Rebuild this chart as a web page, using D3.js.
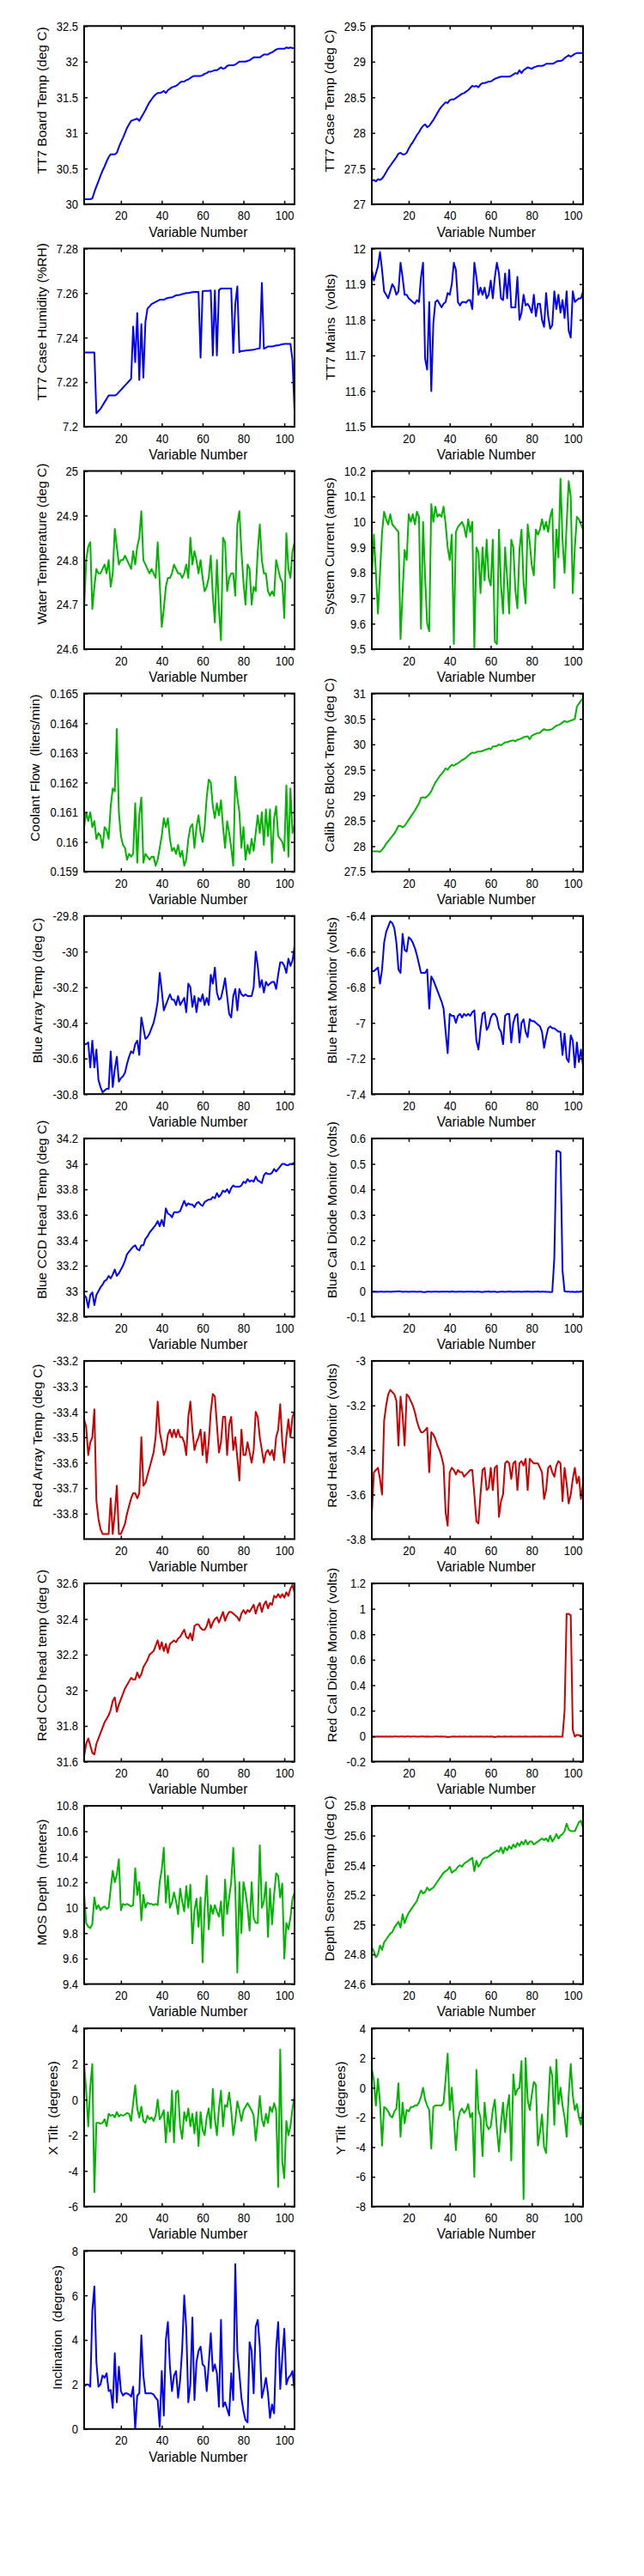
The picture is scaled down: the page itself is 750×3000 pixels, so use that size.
<!DOCTYPE html>
<html><head><meta charset="utf-8">
<script src="https://cdn.jsdelivr.net/npm/d3@7"></script>
<style>
body{margin:0;background:#fff}
svg text{font-family:"Liberation Sans",Arial,Helvetica,sans-serif;fill:#000}
.ylab{white-space:pre}
</style>
</head><body>
<svg id="c" width="750" height="3000"></svg>
<script>
// ---------- data ----------
const variableNumbers = d3.range(2, 106);
const xTicks = [20, 40, 60, 80, 100];

const tt7BoardTemp = [
30.07,30.07,30.07,30.07,30.08,30.17,30.25,30.32,30.4,30.47,
30.53,30.6,30.66,30.7,30.7,30.7,30.72,30.8,30.87,30.93,
31.0,31.07,31.12,31.17,31.18,31.19,31.2,31.17,31.22,31.27,
31.32,31.38,31.43,31.47,31.51,31.54,31.56,31.56,31.57,31.59,
31.56,31.6,31.62,31.64,31.65,31.66,31.68,31.71,31.72,31.72,
31.74,31.75,31.77,31.79,31.8,31.8,31.8,31.8,31.81,31.83,
31.84,31.86,31.86,31.87,31.88,31.88,31.9,31.92,31.9,31.91,
31.94,31.95,31.95,31.95,31.96,31.98,32.0,32.0,32.0,32.0,
32.01,32.02,32.04,32.06,32.06,32.06,32.06,32.08,32.1,32.1,
32.1,32.12,32.13,32.15,32.17,32.18,32.18,32.18,32.18,32.2,
32.19,32.2,32.19,32.19];

const tt7CaseTemp = [
27.33,27.34,27.32,27.35,27.34,27.36,27.4,27.45,27.5,27.54,
27.58,27.62,27.66,27.71,27.72,27.7,27.7,27.72,27.78,27.83,
27.87,27.92,27.97,28.01,28.06,28.1,28.12,28.08,28.1,28.14,
28.18,28.23,28.28,28.33,28.37,28.4,28.43,28.42,28.46,28.47,
28.47,28.49,28.51,28.53,28.55,28.56,28.58,28.6,28.63,28.66,
28.65,28.66,28.64,28.68,28.7,28.7,28.71,28.72,28.72,28.74,
28.76,28.77,28.78,28.79,28.79,28.79,28.79,28.79,28.8,28.82,
28.84,28.83,28.88,28.84,28.88,28.9,28.92,28.91,28.9,28.92,
28.93,28.94,28.94,28.94,28.95,28.97,28.97,28.97,28.97,28.98,
29.0,29.01,29.01,29.02,29.05,29.07,29.09,29.07,29.09,29.11,
29.12,29.12,29.12,29.12];

const tt7CaseHumidity = [
7.2333,7.2333,7.2333,7.2333,7.2333,7.2333,7.206,7.207,7.208,7.2095,
7.211,7.2125,7.214,7.214,7.214,7.214,7.2145,7.2155,7.2165,7.2175,
7.2185,7.2195,7.2205,7.2215,7.245,7.229,7.251,7.221,7.246,7.222,
7.247,7.253,7.254,7.255,7.2555,7.256,7.2565,7.257,7.257,7.257,
7.2575,7.2578,7.258,7.258,7.2585,7.259,7.259,7.2592,7.2595,7.2597,
7.26,7.26,7.2602,7.2604,7.2605,7.2605,7.2605,7.231,7.2608,7.261,
7.261,7.261,7.2612,7.232,7.2612,7.232,7.2613,7.262,7.262,7.262,
7.262,7.262,7.262,7.233,7.255,7.263,7.2335,7.234,7.234,7.2342,
7.2343,7.2344,7.2345,7.2346,7.2348,7.235,7.2352,7.2645,7.235,7.2355,
7.236,7.236,7.236,7.2362,7.2365,7.2365,7.2368,7.237,7.2372,7.2372,
7.2372,7.2372,7.23,7.207];

const tt7Mains = [
11.94,11.91,11.93,11.95,11.99,11.94,11.88,11.87,11.86,11.88,
11.9,11.89,11.87,11.88,11.96,11.92,11.87,11.87,11.86,11.855,
11.85,11.845,11.855,11.85,11.92,11.96,11.69,11.66,11.85,11.6,
11.79,11.85,11.855,11.845,11.835,11.845,11.85,11.875,11.87,11.9,
11.96,11.94,11.85,11.84,11.85,11.85,11.848,11.855,11.855,11.83,
11.96,11.92,11.87,11.89,11.87,11.89,11.86,11.87,11.91,11.86,
11.92,11.96,11.93,11.86,11.855,11.93,11.86,11.94,11.835,11.835,
11.835,11.92,11.8,11.82,11.87,11.84,11.845,11.835,11.82,11.87,
11.81,11.845,11.845,11.8,11.78,11.875,11.81,11.775,11.785,11.88,
11.83,11.87,11.82,11.855,11.805,11.88,11.77,11.75,11.88,11.85,
11.855,11.86,11.86,11.88];

const waterTemperature = [
24.69,24.8,24.83,24.84,24.69,24.74,24.78,24.77,24.77,24.78,
24.79,24.77,24.8,24.74,24.77,24.87,24.83,24.79,24.8,24.8,
24.81,24.8,24.79,24.78,24.82,24.79,24.83,24.85,24.91,24.8,
24.79,24.78,24.77,24.78,24.77,24.76,24.84,24.75,24.65,24.69,
24.74,24.76,24.76,24.77,24.79,24.78,24.77,24.77,24.76,24.77,
24.79,24.76,24.85,24.79,24.82,24.8,24.77,24.8,24.76,24.73,
24.74,24.76,24.81,24.72,24.66,24.8,24.69,24.62,24.85,24.84,
24.73,24.76,24.77,24.77,24.72,24.88,24.91,24.82,24.75,24.7,
24.79,24.78,24.7,24.74,24.73,24.82,24.88,24.8,24.77,24.77,
24.73,24.72,24.73,24.72,24.8,24.78,24.76,24.75,24.67,24.86,
24.78,24.76,24.82,24.84];

const systemCurrent = [
9.78,9.95,9.8,9.64,9.8,9.96,10.04,10.01,9.99,10.03,
9.99,9.98,9.97,9.96,9.54,9.72,9.89,9.85,10.03,10.0,
10.03,9.99,10.04,10.02,9.58,10.0,9.78,9.6,9.57,10.07,
10.0,10.06,10.02,10.03,10.02,10.06,9.99,9.9,9.85,9.95,
9.52,9.96,9.98,9.99,10.0,9.98,9.94,10.01,9.96,10.0,
9.5,9.9,9.88,9.72,9.9,9.77,9.93,9.78,9.75,9.93,
9.53,9.52,9.97,9.75,9.64,9.9,9.78,9.64,9.93,9.9,
9.73,9.66,9.89,9.97,9.76,9.68,9.99,9.92,9.83,9.79,
9.97,9.95,9.97,10.01,9.97,10.0,9.96,10.02,10.05,9.74,
9.97,9.86,10.17,9.93,9.8,9.99,10.16,10.1,9.72,9.9,
10.02,10.01,9.99,9.97];

const coolantFlow = [
0.1605,0.161,0.1607,0.161,0.1605,0.1607,0.1601,0.1603,0.1602,0.1598,
0.1605,0.1604,0.1601,0.1612,0.1618,0.1617,0.1638,0.161,0.1602,0.1599,
0.1598,0.1594,0.1596,0.1595,0.1596,0.1613,0.1593,0.1609,0.1615,0.1593,
0.1596,0.1595,0.1594,0.1595,0.1595,0.1592,0.1594,0.1598,0.1602,0.1608,
0.1605,0.1608,0.1601,0.1597,0.1598,0.1596,0.1599,0.1595,0.1597,0.1592,
0.1594,0.1601,0.1605,0.1606,0.1598,0.1605,0.1609,0.1603,0.16,0.1605,
0.1615,0.1621,0.162,0.1612,0.1608,0.1613,0.1609,0.1614,0.1605,0.1598,
0.1607,0.1603,0.1598,0.1592,0.1622,0.1615,0.161,0.1598,0.1605,0.1594,
0.1599,0.1596,0.1601,0.1597,0.1603,0.1609,0.1603,0.161,0.1599,0.1611,
0.1602,0.1611,0.1593,0.1608,0.1612,0.1602,0.1601,0.16,0.1597,0.1619,
0.1595,0.1618,0.1603,0.1606];

const calibSrcBlockTemp = [
27.9,27.9,27.9,27.9,27.89,27.93,27.98,28.05,28.1,28.15,
28.2,28.25,28.32,28.4,28.4,28.37,28.4,28.46,28.52,28.58,
28.64,28.7,28.77,28.84,28.95,28.96,28.95,28.98,29.02,29.08,
29.17,29.25,29.31,29.37,29.42,29.47,29.53,29.5,29.56,29.6,
29.58,29.61,29.63,29.66,29.69,29.71,29.74,29.78,29.81,29.84,
29.83,29.85,29.86,29.86,29.87,29.89,29.9,29.92,29.9,29.96,
29.96,29.97,30.0,29.98,30.01,30.04,30.04,30.06,30.07,30.08,
30.06,30.09,30.1,30.12,30.14,30.15,30.16,30.1,30.17,30.19,
30.21,30.22,30.23,30.27,30.3,30.28,30.28,30.29,30.3,30.34,
30.37,30.38,30.4,30.43,30.46,30.44,30.45,30.47,30.48,30.5,
30.74,30.8,30.86,30.9];

const blueArrayTemp = [
-30.52,-30.52,-30.51,-30.65,-30.5,-30.65,-30.55,-30.72,-30.76,-30.79,
-30.78,-30.77,-30.77,-30.56,-30.76,-30.66,-30.59,-30.73,-30.71,-30.7,
-30.68,-30.63,-30.59,-30.56,-30.57,-30.52,-30.5,-30.58,-30.37,-30.43,
-30.49,-30.48,-30.46,-30.43,-30.4,-30.35,-30.28,-30.12,-30.22,-30.33,
-30.3,-30.27,-30.24,-30.27,-30.27,-30.3,-30.25,-30.3,-30.28,-30.26,
-30.34,-30.18,-30.2,-30.31,-30.25,-30.34,-30.26,-30.28,-30.24,-30.3,
-30.26,-30.3,-30.13,-30.18,-30.09,-30.23,-30.27,-30.26,-30.21,-30.15,
-30.25,-30.35,-30.37,-30.25,-30.21,-30.33,-30.21,-30.24,-30.25,-30.24,
-30.25,-30.25,-30.25,-30.2,-30.0,-30.08,-30.2,-30.16,-30.23,-30.17,
-30.19,-30.18,-30.17,-30.17,-30.21,-30.13,-30.06,-30.06,-30.08,-30.12,
-30.04,-30.08,-30.05,-29.97];

const blueHeatMonitor = [
-6.71,-6.71,-6.7,-6.69,-6.78,-6.7,-6.55,-6.49,-6.46,-6.43,
-6.44,-6.47,-6.55,-6.7,-6.72,-6.5,-6.59,-6.6,-6.52,-6.53,
-6.55,-6.58,-6.62,-6.67,-6.72,-6.72,-6.72,-6.7,-6.92,-6.74,
-6.76,-6.79,-6.82,-6.85,-6.88,-6.92,-7.05,-7.17,-6.95,-6.96,
-6.96,-7.0,-6.96,-6.95,-6.97,-6.95,-6.96,-6.95,-6.96,-6.94,
-6.93,-7.1,-7.15,-7.04,-6.95,-6.94,-7.04,-7.02,-6.97,-6.95,
-6.95,-6.97,-7.03,-7.05,-7.12,-6.96,-6.95,-6.95,-7.11,-7.0,
-6.96,-6.95,-7.11,-7.0,-6.98,-7.05,-7.08,-6.98,-6.99,-6.99,
-7.0,-7.01,-7.02,-7.05,-7.14,-7.08,-7.03,-7.02,-7.03,-7.03,
-7.04,-7.05,-7.05,-7.18,-7.06,-7.2,-7.22,-7.07,-7.1,-7.25,
-7.11,-7.22,-7.15,-7.24];

const blueCcdHeadTemp = [
32.97,32.95,32.87,32.97,32.99,32.89,32.97,33.0,33.03,33.05,
33.08,33.09,33.12,33.1,33.13,33.17,33.12,33.14,33.17,33.2,
33.24,33.29,33.31,33.33,33.35,33.36,33.33,33.32,33.36,33.36,
33.41,33.43,33.46,33.48,33.5,33.52,33.55,33.51,33.56,33.51,
33.65,33.61,33.6,33.58,33.62,33.62,33.62,33.63,33.67,33.71,
33.67,33.69,33.68,33.68,33.66,33.69,33.7,33.68,33.67,33.7,
33.71,33.72,33.72,33.74,33.73,33.77,33.74,33.76,33.79,33.78,
33.8,33.77,33.81,33.83,33.82,33.82,33.82,33.83,33.86,33.85,
33.88,33.86,33.87,33.86,33.9,33.87,33.86,33.85,33.91,33.93,
33.92,33.92,33.93,33.96,33.94,33.96,33.98,34.0,34.0,33.99,
33.99,34.0,34.0,34.01];

const blueCalDiodeMonitor = [
-0.002,-0.003,-0.002,-0.003,-0.002,-0.002,-0.003,-0.002,-0.002,-0.003,
-0.002,-0.002,-0.001,0.0,-0.001,-0.003,-0.002,-0.002,-0.003,-0.002,
-0.002,-0.002,-0.003,-0.002,-0.002,-0.004,-0.004,-0.002,-0.002,-0.003,
-0.002,-0.002,-0.002,-0.003,-0.002,-0.002,-0.002,-0.002,-0.003,-0.001,
-0.002,-0.003,-0.002,-0.002,-0.002,-0.003,-0.002,-0.002,-0.002,-0.002,
-0.003,-0.002,-0.002,-0.003,-0.004,-0.002,-0.002,-0.001,-0.003,-0.002,
-0.002,-0.004,-0.003,-0.002,-0.002,-0.003,-0.002,-0.001,-0.002,-0.003,
-0.002,-0.002,-0.002,-0.003,-0.002,-0.002,-0.001,-0.002,-0.003,-0.002,
-0.002,-0.001,-0.003,-0.002,-0.002,-0.003,-0.003,-0.004,-0.003,0.13,
0.55,0.55,0.545,0.08,-0.001,-0.002,-0.002,-0.003,-0.002,-0.004,
-0.002,-0.003,-0.002,-0.001];

const redArrayTemp = [
-33.43,-33.46,-33.57,-33.52,-33.5,-33.39,-33.75,-33.82,-33.86,-33.88,
-33.88,-33.88,-33.88,-33.74,-33.88,-33.8,-33.69,-33.88,-33.88,-33.86,
-33.84,-33.8,-33.77,-33.74,-33.72,-33.72,-33.74,-33.72,-33.5,-33.69,
-33.68,-33.65,-33.62,-33.59,-33.56,-33.5,-33.36,-33.48,-33.52,-33.57,
-33.55,-33.49,-33.47,-33.5,-33.47,-33.5,-33.47,-33.5,-33.5,-33.52,
-33.57,-33.42,-33.36,-33.47,-33.55,-33.52,-33.5,-33.47,-33.57,-33.48,
-33.6,-33.52,-33.4,-33.33,-33.34,-33.45,-33.56,-33.52,-33.42,-33.42,
-33.57,-33.45,-33.42,-33.55,-33.5,-33.58,-33.67,-33.47,-33.57,-33.57,
-33.52,-33.56,-33.6,-33.55,-33.4,-33.42,-33.5,-33.55,-33.6,-33.56,
-33.55,-33.57,-33.55,-33.59,-33.5,-33.47,-33.37,-33.52,-33.6,-33.5,
-33.43,-33.5,-33.42,-33.4];

const redHeatMonitor = [
-3.69,-3.5,-3.49,-3.48,-3.53,-3.6,-3.27,-3.2,-3.15,-3.13,
-3.14,-3.15,-3.18,-3.38,-3.16,-3.24,-3.38,-3.15,-3.16,-3.18,
-3.2,-3.23,-3.27,-3.3,-3.32,-3.32,-3.31,-3.3,-3.5,-3.32,
-3.33,-3.35,-3.38,-3.4,-3.43,-3.47,-3.68,-3.74,-3.5,-3.48,
-3.49,-3.51,-3.49,-3.5,-3.5,-3.52,-3.51,-3.5,-3.49,-3.49,
-3.6,-3.72,-3.73,-3.6,-3.49,-3.48,-3.58,-3.57,-3.48,-3.58,
-3.48,-3.47,-3.7,-3.63,-3.6,-3.46,-3.45,-3.46,-3.53,-3.46,
-3.45,-3.58,-3.46,-3.45,-3.47,-3.44,-3.58,-3.44,-3.45,-3.46,
-3.46,-3.46,-3.48,-3.5,-3.62,-3.58,-3.48,-3.47,-3.5,-3.52,
-3.47,-3.45,-3.46,-3.63,-3.48,-3.55,-3.64,-3.6,-3.53,-3.48,
-3.55,-3.52,-3.62,-3.55];

const redCcdHeadTemp = [
31.63,31.7,31.73,31.69,31.65,31.64,31.7,31.73,31.76,31.79,
31.82,31.84,31.86,31.89,31.94,31.96,31.88,31.92,31.95,31.98,
32.01,32.03,32.05,32.07,32.06,32.06,32.1,32.07,32.09,32.13,
32.15,32.17,32.2,32.21,32.22,32.25,32.28,32.23,32.27,32.22,
32.26,32.21,32.26,32.27,32.28,32.27,32.29,32.3,32.32,32.34,
32.3,32.29,32.32,32.28,32.36,32.37,32.37,32.35,32.34,32.34,
32.36,32.4,32.35,32.38,32.4,32.41,32.38,32.41,32.44,32.39,
32.42,32.44,32.44,32.43,32.42,32.41,32.39,32.43,32.45,32.43,
32.45,32.44,32.46,32.48,32.43,32.47,32.49,32.44,32.48,32.5,
32.46,32.49,32.48,32.53,32.52,32.54,32.52,32.54,32.52,32.55,
32.53,32.57,32.59,32.55];

const redCalDiodeMonitor = [
-0.003,-0.008,-0.004,-0.003,-0.004,-0.003,-0.004,-0.003,-0.005,-0.003,
-0.004,-0.003,-0.003,-0.004,-0.003,-0.002,-0.004,-0.003,-0.003,-0.004,
-0.003,-0.003,-0.004,-0.005,-0.003,-0.003,-0.004,-0.003,-0.005,-0.004,
-0.004,-0.003,-0.003,-0.004,-0.003,-0.004,-0.004,-0.008,-0.006,-0.004,
-0.003,-0.004,-0.004,-0.003,-0.004,-0.003,-0.004,-0.004,-0.003,-0.005,
-0.004,-0.003,-0.004,-0.003,-0.004,-0.004,-0.003,-0.004,-0.003,-0.004,
-0.007,-0.004,-0.003,-0.004,-0.005,-0.003,-0.004,-0.004,-0.003,-0.004,
-0.005,-0.004,-0.003,-0.004,-0.004,-0.003,-0.005,-0.004,-0.004,-0.003,
-0.004,-0.004,-0.003,-0.004,-0.005,-0.004,-0.004,-0.003,-0.004,-0.004,
-0.003,-0.004,-0.004,-0.004,0.2,0.96,0.96,0.95,0.05,-0.004,
0.01,0.008,0.002,-0.002];

const mosDepth = [
10.11,9.88,9.85,9.84,9.87,10.08,9.99,10.02,9.98,10.0,
10.01,9.99,10.0,10.15,10.29,10.2,10.26,10.38,9.98,10.03,
10.02,10.03,10.02,10.01,10.02,10.31,10.1,10.2,9.9,10.1,
10.0,10.04,10.03,10.03,10.02,10.03,10.02,10.2,10.3,10.47,
10.04,10.25,10.0,10.04,10.12,10.05,9.95,10.15,10.05,9.97,
10.17,10.0,10.18,9.72,9.98,10.07,9.85,10.08,9.57,10.0,
10.25,9.83,10.02,9.95,10.02,9.97,9.93,10.05,9.78,10.22,
9.95,10.08,10.2,10.47,10.15,9.49,10.2,9.8,10.2,10.12,
10.0,9.82,10.2,9.92,9.88,9.88,10.49,10.0,10.05,10.2,
9.77,10.15,9.87,10.1,10.27,10.25,10.08,10.19,9.6,9.88,
9.83,9.92,10.07,10.12];

const depthSensorTemp = [
24.85,24.82,24.78,24.8,24.86,24.83,24.88,24.9,24.92,24.94,
24.95,24.98,25.0,25.02,24.98,25.07,25.01,25.05,25.08,25.1,
25.12,25.14,25.16,25.2,25.23,25.21,25.22,25.25,25.23,25.24,
25.25,25.27,25.29,25.31,25.33,25.35,25.36,25.37,25.39,25.35,
25.36,25.37,25.39,25.4,25.39,25.41,25.42,25.43,25.44,25.45,
25.36,25.43,25.39,25.41,25.44,25.45,25.45,25.46,25.47,25.48,
25.49,25.5,25.49,25.52,25.48,25.52,25.5,25.53,25.51,25.54,
25.52,25.55,25.53,25.56,25.54,25.57,25.54,25.56,25.56,25.54,
25.55,25.56,25.57,25.58,25.57,25.58,25.56,25.6,25.56,25.58,
25.61,25.58,25.6,25.61,25.63,25.68,25.64,25.63,25.63,25.63,
25.66,25.69,25.7,25.65];

const xTilt = [
2.0,0.5,-1.5,0.7,2.0,-5.2,-1.3,-1.3,-1.35,-1.3,
-1.1,-1.5,-0.8,-0.9,-0.85,-1.0,-0.7,-0.95,-0.85,-0.9,
-0.85,-0.75,-0.8,-1.2,-0.2,0.8,-0.5,-1.0,-0.4,-1.2,
-1.3,-0.9,-1.1,-1.0,-1.2,-0.9,0.0,-1.1,-0.9,-0.6,
-2.4,-0.7,-1.8,0.5,-2.4,0.4,0.5,-1.5,-2.2,-0.7,
-1.2,-0.5,-1.5,-0.8,-1.9,-0.7,-2.6,-0.7,-1.7,-2.0,
-1.0,-0.5,-1.6,0.6,-1.1,-2.0,-0.5,0.5,-1.5,-0.3,
-0.4,0.4,-0.6,-2.0,-1.2,-0.1,-0.6,-1.2,-0.6,-0.4,
-0.2,-0.4,-0.6,-0.9,-2.3,-1.2,0.2,-1.1,-1.5,-0.8,
-1.3,-0.4,-0.7,-0.2,-0.6,-4.9,2.8,-3.5,-4.4,-1.2,
-2.0,-1.5,-0.5,0.2];

const yTilt = [
1.3,0.5,-1.2,0.6,-1.0,-3.9,-1.3,-1.4,-1.6,-1.9,
-2.0,-1.6,-1.4,0.3,-3.3,-1.0,-2.4,-1.5,-1.6,-1.3,
-1.3,-1.2,-1.2,-1.0,-0.6,0.0,-0.8,-1.2,-1.5,-4.1,
-1.3,-1.2,-1.2,-1.2,-1.2,-1.0,0.6,2.3,-1.5,0.0,
-2.0,-4.2,-2.2,-1.6,-1.4,-1.7,-1.5,-1.1,-2.0,-1.7,
-6.0,1.2,-1.5,-2.0,-4.6,-1.0,-2.5,-2.8,-2.6,-1.5,
-0.8,-2.8,-4.3,-2.4,-1.0,-3.0,-1.4,-0.5,-4.9,0.9,
-0.5,-0.1,0.0,1.8,-7.5,2.0,-0.8,-1.5,-0.5,0.4,
0.2,-3.9,-3.0,-1.8,-4.0,-4.4,-1.3,1.4,0.8,-2.5,
1.9,-1.1,0.0,-1.2,-2.0,-3.3,-0.5,1.6,-0.5,-1.5,
-1.1,-2.0,-2.5,-1.4];

const inclination = [
1.9,2.0,2.0,1.9,5.3,6.4,3.0,1.9,2.0,2.4,
2.3,2.5,1.7,1.75,0.95,3.4,1.2,2.8,1.7,1.5,
1.6,1.6,1.55,1.45,1.9,0.0,1.5,1.6,4.2,2.4,
1.6,1.6,1.6,1.6,1.55,1.4,1.3,0.1,2.6,0.6,
4.0,4.8,2.8,1.7,2.4,2.6,1.4,2.2,3.6,6.0,
4.5,1.2,2.0,5.0,1.3,3.0,3.5,3.7,2.9,2.8,
1.7,2.9,4.3,2.6,2.9,2.5,1.0,4.9,1.0,1.2,
0.9,0.6,2.5,1.3,7.4,3.5,2.5,1.4,0.8,0.4,
0.3,3.9,3.5,1.6,4.6,4.9,3.7,1.4,1.8,2.3,
1.6,0.5,1.1,0.7,3.6,4.8,1.8,3.2,4.5,2.0,
2.3,2.4,2.6,1.7];

// ---------- styles ----------
const BLUE = "#0000ff", GREEN = "#00b400", RED = "#cc0000";

// panel table (built from the arrays above)
const panels = [
 {label:"TT7 Board Temp (deg C)", color:BLUE, yDomain:[30,32.5], yTicks:[30,30.5,31,31.5,32,32.5], values:tt7BoardTemp},
 {label:"TT7 Case Temp (deg C)", color:BLUE, yDomain:[27,29.5], yTicks:[27,27.5,28,28.5,29,29.5], values:tt7CaseTemp},
 {label:"TT7 Case Humidity (%RH)", color:BLUE, yDomain:[7.2,7.28], yTicks:[7.2,7.22,7.24,7.26,7.28], values:tt7CaseHumidity},
 {label:"TT7 Mains  (volts)", color:BLUE, yDomain:[11.5,12], yTicks:[11.5,11.6,11.7,11.8,11.9,12], values:tt7Mains},
 {label:"Water Temperature (deg C)", color:GREEN, yDomain:[24.6,25], yTicks:[24.6,24.7,24.8,24.9,25], values:waterTemperature},
 {label:"System Current (amps)", color:GREEN, yDomain:[9.5,10.2], yTicks:[9.5,9.6,9.7,9.8,9.9,10,10.1,10.2], values:systemCurrent},
 {label:"Coolant Flow  (liters/min)", color:GREEN, yDomain:[0.159,0.165], yTicks:[0.159,0.16,0.161,0.162,0.163,0.164,0.165], values:coolantFlow},
 {label:"Calib Src Block Temp (deg C)", color:GREEN, yDomain:[27.5,31], yTicks:[27.5,28,28.5,29,29.5,30,30.5,31], values:calibSrcBlockTemp},
 {label:"Blue Array Temp (deg C)", color:BLUE, yDomain:[-30.8,-29.8], yTicks:[-30.8,-30.6,-30.4,-30.2,-30,-29.8], values:blueArrayTemp},
 {label:"Blue Heat Monitor (volts)", color:BLUE, yDomain:[-7.4,-6.4], yTicks:[-7.4,-7.2,-7,-6.8,-6.6,-6.4], values:blueHeatMonitor},
 {label:"Blue CCD Head Temp (deg C)", color:BLUE, yDomain:[32.8,34.2], yTicks:[32.8,33,33.2,33.4,33.6,33.8,34,34.2], values:blueCcdHeadTemp},
 {label:"Blue Cal Diode Monitor (volts)", color:BLUE, yDomain:[-0.1,0.6], yTicks:[-0.1,0,0.1,0.2,0.3,0.4,0.5,0.6], values:blueCalDiodeMonitor},
 {label:"Red Array Temp (deg C)", color:RED, yDomain:[-33.9,-33.2], yTicks:[-33.8,-33.7,-33.6,-33.5,-33.4,-33.3,-33.2], values:redArrayTemp},
 {label:"Red Heat Monitor (volts)", color:RED, yDomain:[-3.8,-3], yTicks:[-3.8,-3.6,-3.4,-3.2,-3], values:redHeatMonitor},
 {label:"Red CCD head temp (deg C)", color:RED, yDomain:[31.6,32.6], yTicks:[31.6,31.8,32,32.2,32.4,32.6], values:redCcdHeadTemp},
 {label:"Red Cal Diode Monitor (volts)", color:RED, yDomain:[-0.2,1.2], yTicks:[-0.2,0,0.2,0.4,0.6,0.8,1,1.2], values:redCalDiodeMonitor},
 {label:"MOS Depth  (meters)", color:GREEN, yDomain:[9.4,10.8], yTicks:[9.4,9.6,9.8,10,10.2,10.4,10.6,10.8], values:mosDepth},
 {label:"Depth Sensor Temp (deg C)", color:GREEN, yDomain:[24.6,25.8], yTicks:[24.6,24.8,25,25.2,25.4,25.6,25.8], values:depthSensorTemp},
 {label:"X Tilt  (degrees)", color:GREEN, yDomain:[-6,4], yTicks:[-6,-4,-2,0,2,4], values:xTilt},
 {label:"Y Tilt  (degrees)", color:GREEN, yDomain:[-8,4], yTicks:[-8,-6,-4,-2,0,2,4], values:yTilt},
 {label:"Inclination  (degrees)", color:BLUE, yDomain:[0,8], yTicks:[0,2,4,6,8], values:inclination}
];

// ---------- layout ----------
const FONT = '"Liberation Sans", Arial, Helvetica, sans-serif';
const COLS = [{left:98, width:245}, {left:433, width:246}];
const TOP0 = 30.3, PITCH = 259.1, BOX_H = 207.5;
const X_DOMAIN = [2, 105];
const fmt = v => String(Math.round(v * 1e6) / 1e6);

const svg = d3.select("#c");
svg.append("rect").attr("width", 750).attr("height", 3000).attr("fill", "#fff");

panels.forEach((p, i) => {
  const col = COLS[i % 2], row = Math.floor(i / 2);
  const x0 = col.left, w = col.width, y0 = TOP0 + PITCH * row, h = BOX_H;
  const x = d3.scaleLinear().domain(X_DOMAIN).range([x0, x0 + w]);
  const y = d3.scaleLinear().domain(p.yDomain).range([y0 + h, y0]);
  const g = svg.append("g");

  const cid = "clip" + i;
  g.append("clipPath").attr("id", cid).append("rect")
    .attr("x", x0).attr("y", y0).attr("width", w).attr("height", h);

  g.append("path").datum(p.values)
    .attr("clip-path", `url(#${cid})`)
    .attr("fill", "none").attr("stroke", p.color).attr("stroke-width", 2)
    .attr("stroke-linejoin", "round")
    .attr("d", d3.line().x((d, j) => x(variableNumbers[j])).y(d => y(d)));

  const styleAxis = (sel) => {
    sel.attr("font-family", FONT).attr("font-size", 13);
    sel.select(".domain").remove();
    sel.selectAll(".tick line").attr("stroke", "#000").attr("stroke-width", 1.5);
    sel.selectAll(".tick text").attr("fill", "#000");
  };

  // bottom axis with labels
  const gb = g.append("g").attr("transform", `translate(0,${y0 + h})`)
    .call(d3.axisBottom(x).tickValues(xTicks).tickSizeInner(-4).tickSizeOuter(0).tickFormat(fmt));
  styleAxis(gb);
  gb.selectAll(".tick text").attr("y", 17).attr("dy", null).attr("transform", "scale(1,1.1)");

  // top axis, ticks only
  const gt = g.append("g").attr("transform", `translate(0,${y0})`)
    .call(d3.axisTop(x).tickValues(xTicks).tickSizeInner(-4).tickSizeOuter(0).tickFormat(""));
  styleAxis(gt);

  // left axis with labels
  const gl = g.append("g").attr("transform", `translate(${x0},0)`)
    .call(d3.axisLeft(y).tickValues(p.yTicks).tickSizeInner(-4).tickSizeOuter(0).tickFormat(fmt));
  styleAxis(gl);
  gl.selectAll(".tick text").attr("x", -7).attr("dy", null).attr("y", 4.4).attr("transform", "scale(1,1.1)");

  // right axis, ticks only
  const gr = g.append("g").attr("transform", `translate(${x0 + w},0)`)
    .call(d3.axisRight(y).tickValues(p.yTicks).tickSizeInner(-4).tickSizeOuter(0).tickFormat(""));
  styleAxis(gr);

  // box
  g.append("rect").attr("x", x0).attr("y", y0).attr("width", w).attr("height", h)
    .attr("fill", "none").attr("stroke", "#000").attr("stroke-width", 2);

  // tick label extents
  let maxW = 0;
  gl.selectAll(".tick text").each(function(){ maxW = Math.max(maxW, this.getComputedTextLength()); });
  const tickLeft = x0 - 7 - maxW;

  // y label
  const yl = g.append("text").attr("class", "ylab")
    .attr("font-size", 15.5).attr("text-anchor", "middle")
    .text(p.label);
  const L = yl.node().getComputedTextLength();
  const lx = tickLeft - 12, ly = y0 + h / 2 - 0.1 * L;
  yl.attr("transform", `translate(${lx},${ly}) rotate(-90)`);

  // x label
  const xl = g.append("text").attr("font-size", 15.5).attr("text-anchor", "middle")
    .text("Variable Number");
  const XL = xl.node().getComputedTextLength();
  xl.attr("transform", `translate(${x0 + w / 2 + 0.09 * XL},${y0 + h + 37.7}) scale(1,1.1)`);
});
</script>
</body></html>
